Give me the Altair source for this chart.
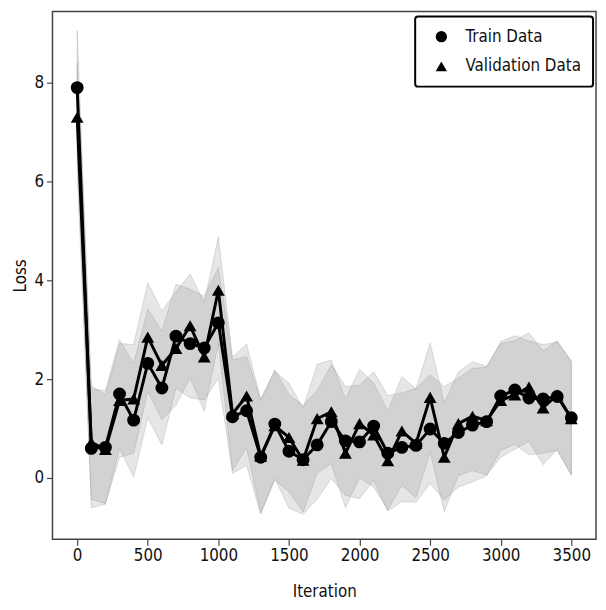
import altair as alt
import pandas as pd

iterations = list(range(0, 3600, 100))
train_loss = [7.90, 0.60, 0.62, 1.70, 1.17, 2.32, 1.82, 2.87, 2.72, 2.63, 3.14, 1.24,
              1.36, 0.42, 1.09, 0.54, 0.37, 0.67, 1.14, 0.75, 0.73, 1.05, 0.50, 0.62,
              0.66, 0.99, 0.70, 0.92, 1.07, 1.14, 1.66, 1.78, 1.62, 1.60, 1.65, 1.22]
val_loss = [7.30, 0.72, 0.58, 1.57, 1.60, 2.85, 2.28, 2.62, 3.08, 2.45, 3.80, 1.30,
            1.66, 0.44, 1.06, 0.82, 0.36, 1.20, 1.34, 0.50, 1.10, 0.87, 0.35, 0.95,
            0.70, 1.63, 0.42, 1.10, 1.25, 1.16, 1.57, 1.68, 1.84, 1.42, 1.68, 1.20]
train_std = [1.15, 1.20, 1.15, 1.10, 1.15, 1.10, 1.15, 1.05, 1.10, 1.05, 1.12, 1.15,
             1.10, 1.15, 1.10, 1.15, 1.10, 1.10, 1.15, 1.10, 1.15, 1.10, 1.17, 1.10,
             1.15, 1.10, 1.15, 1.10, 1.15, 1.10, 1.10, 1.10, 1.15, 1.10, 1.10, 1.15]
val_std = [1.10, 1.15, 1.10, 1.15, 1.10, 1.10, 1.10, 1.15, 1.05, 1.10, 1.08, 1.15,
           1.05, 1.15, 1.10, 1.10, 1.05, 1.10, 1.05, 1.10, 1.10, 1.05, 1.00, 1.10,
           1.10, 1.10, 1.10, 1.05, 1.10, 1.10, 1.15, 1.10, 1.10, 1.15, 1.10, 1.15]

series_names = ["Train Data", "Validation Data"]

rows = []
for name, loss, std in [(series_names[0], train_loss, train_std),
                        (series_names[1], val_loss, val_std)]:
    for it, l, s in zip(iterations, loss, std):
        rows.append({"iteration": it, "loss": l, "lower": l - s, "upper": l + s,
                     "series": name})
df = pd.DataFrame(rows)

FONT = "DejaVu Sans Condensed, Liberation Sans Narrow, DejaVu Sans"

x = alt.X("iteration:Q",
          scale=alt.Scale(domain=[-175, 3675], nice=False, zero=False),
          axis=alt.Axis(values=list(range(0, 3600, 500)), title="Iteration",
                        format="d", grid=False))
y_scale = alt.Scale(domain=[-1.24, 9.44], nice=False, zero=False)
y_axis = alt.Axis(values=[0, 2, 4, 6, 8], title="Loss", grid=False)

band = alt.Chart(df).mark_area(
    color="#808080", fillOpacity=0.2, stroke="#808080", strokeOpacity=0.25,
    strokeWidth=1
).encode(
    x=x,
    y=alt.Y("lower:Q", scale=y_scale, axis=y_axis),
    y2="upper:Q",
    detail="series:N",
)

line = alt.Chart(df).mark_line(color="black", strokeWidth=3).encode(
    x=x,
    y=alt.Y("loss:Q", scale=y_scale, axis=y_axis),
    detail="series:N",
)

points = alt.Chart(df).mark_point(filled=True, color="black", opacity=1, size=170).encode(
    x=x,
    y=alt.Y("loss:Q", scale=y_scale, axis=y_axis),
    shape=alt.Shape("series:N",
                    scale=alt.Scale(domain=series_names, range=["circle", "triangle-up"]),
                    legend=alt.Legend(
                        title=None, orient="none", legendX=367, legendY=5,
                        strokeColor="black", fillColor="white", padding=12,
                        labelFontSize=17, labelFont=FONT, labelColor="#111",
                        symbolSize=130, symbolFillColor="black", symbolStrokeColor="black",
                        labelOffset=16, symbolOffset=6,
                    )),
)

chart = alt.layer(band, line, points).properties(
    width=550, height=534,
    autosize=alt.AutoSizeParams(type="none"),
    padding={"left": 45, "top": 0, "right": 2, "bottom": 66},
).configure_view(
    stroke="#444", strokeWidth=1.5
).configure_legend(
    strokeWidth=2, cornerRadius=3, rowPadding=11
).configure_axis(
    domain=False, tickColor="#444", tickWidth=1.2, tickSize=6,
    labelFont=FONT, labelFontSize=17, labelColor="#111", labelPadding=3,
    titleFont=FONT, titleFontSize=17, titleColor="#111", titleFontWeight="normal",
).configure_axisY(titlePadding=5).configure_axisX(titlePadding=20)

chart.save("out.html", embed_options={"renderer": "svg", "actions": False})
